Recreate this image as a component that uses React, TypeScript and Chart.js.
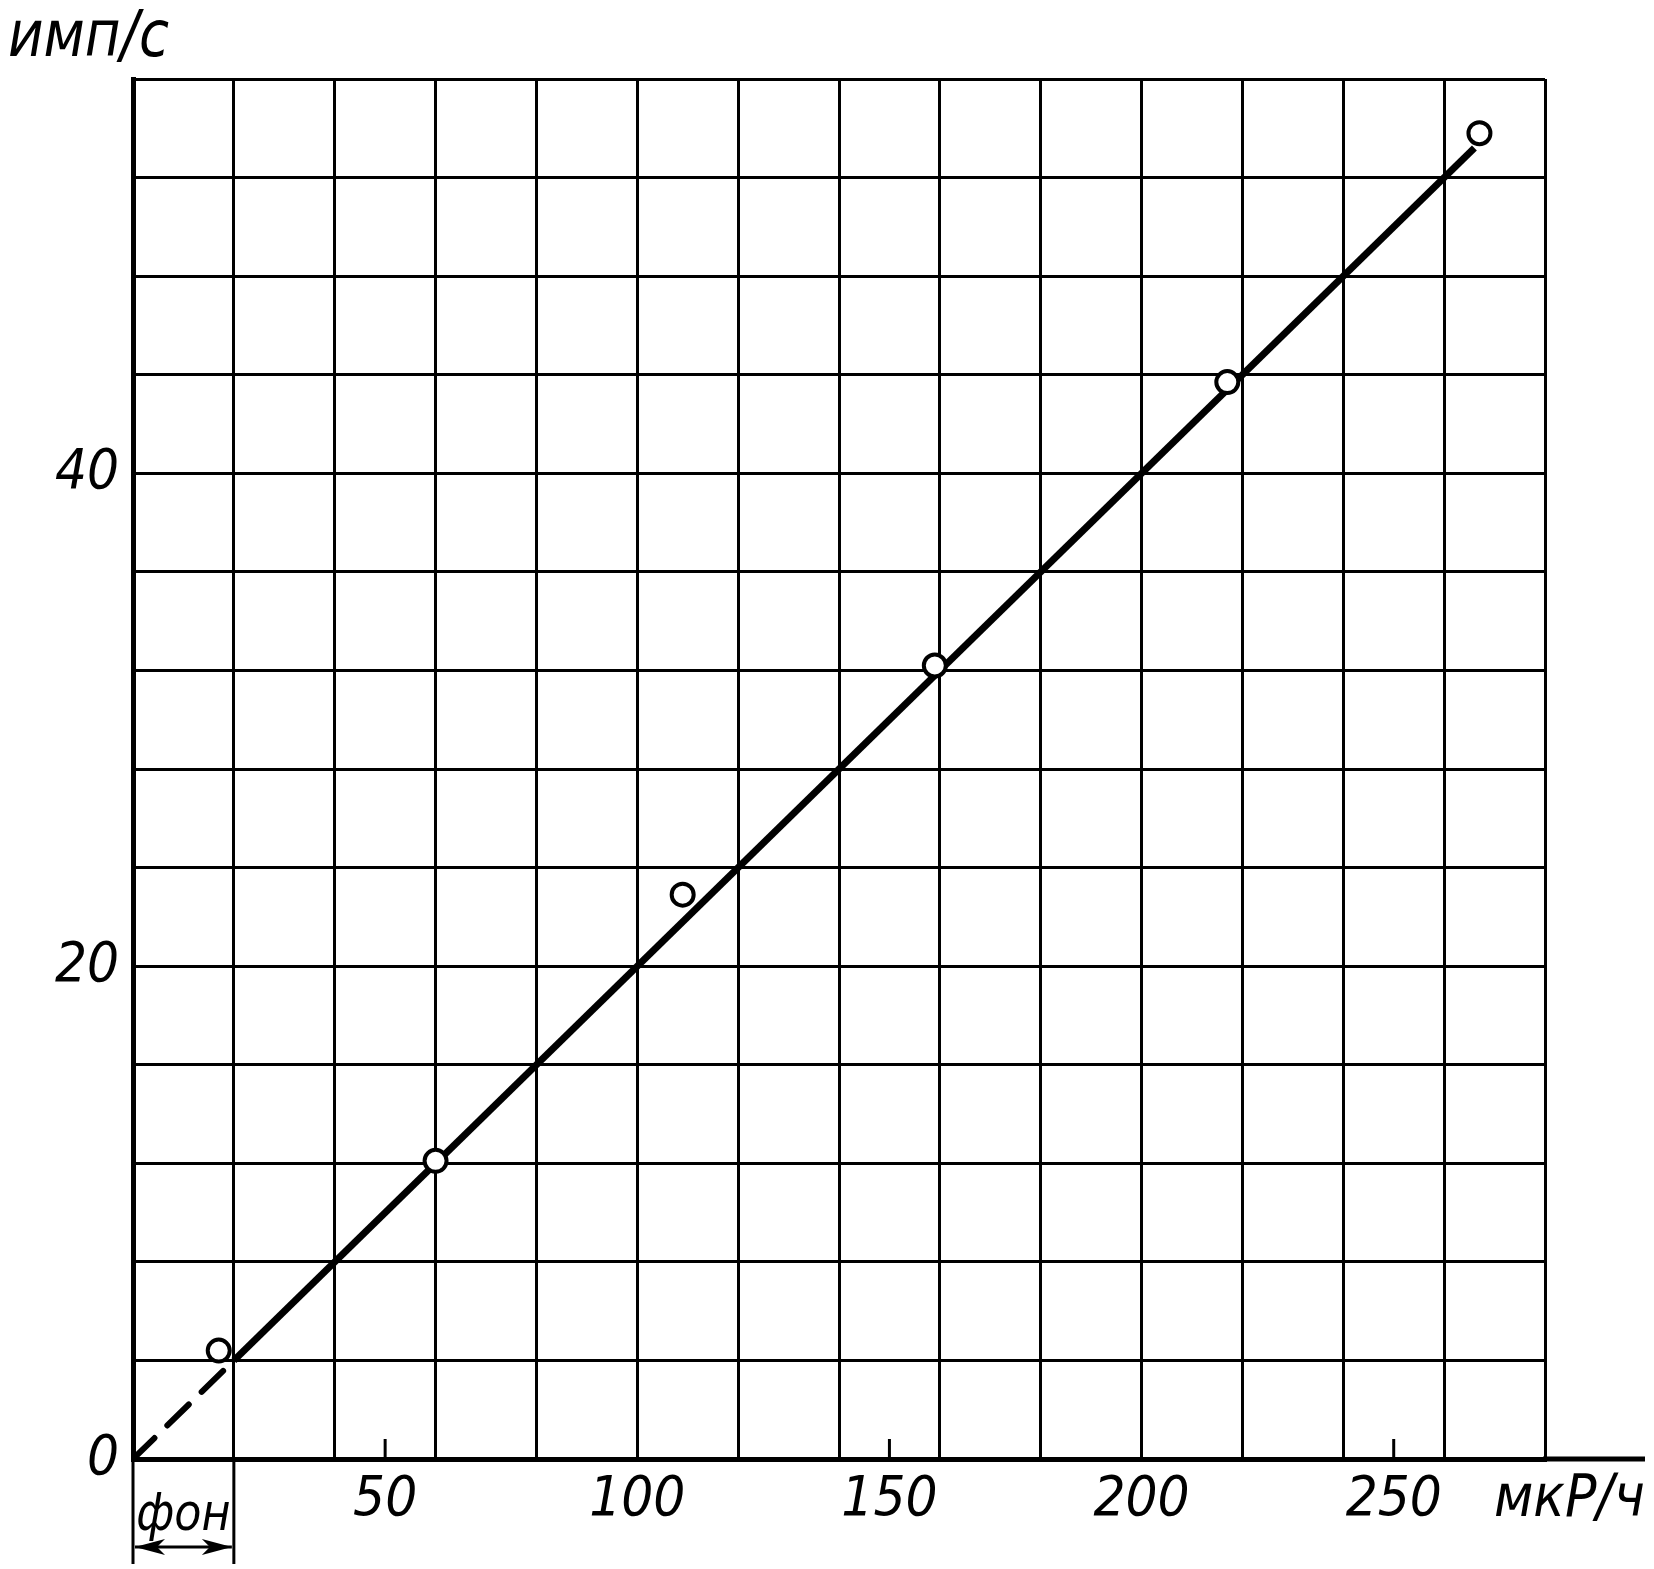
import React, { useEffect, useRef } from "react";
import { Chart, registerables } from "chart.js";

Chart.register(...registerables);

// Measured points: dose rate (мкР/ч) vs count rate (имп/с)
const doseRate = [17, 60, 109, 159, 217, 267];
const countRate = [4.4, 12.1, 22.9, 32.2, 43.7, 53.8];

// Fitted calibration line (solid) and its extrapolation through background (dashed)
const fitX = [20, 266];
const fitY = [4, 53.2];
const backgroundX = [0, 20];
const backgroundY = [0, 4];

// Axis settings / tick labels
const xTickLabels = [50, 100, 150, 200, 250];
const xMinorMarks = [50, 150, 250];
const yTickLabels = [0, 20, 40];
const xMax = 280;
const yMax = 56;
const xGridStep = 20;
const yGridStep = 4;
const backgroundRange = [0, 20];

const yTitle = "имп/с";
const xTitle = "мкР/ч";
const backgroundLabel = "фон";

const FONT = "'DejaVu Sans Condensed', 'DejaVu Sans', sans-serif";

const toPts = (xs: number[], ys: number[]) => xs.map((x, i) => ({ x, y: ys[i] }));

export default function App() {
  const ref = useRef<HTMLCanvasElement | null>(null);

  useEffect(() => {
    document.body.style.margin = "0";
    const canvas = ref.current;
    if (!canvas) return;

    const squeezedText = (ctx: any, text: string, x: number, y: number, sx: number, align: string) => {
      ctx.save();
      ctx.translate(x, y);
      ctx.scale(sx, 1);
      ctx.textAlign = align;
      ctx.fillText(text, 0, 0);
      ctx.restore();
    };

    const decor = {
      id: "decor",
      afterDraw(chart: any) {
        const { ctx, chartArea, scales } = chart;
        const xs = scales.x;
        const bottom = chartArea.bottom;
        ctx.save();
        ctx.strokeStyle = "#000";
        ctx.fillStyle = "#000";
        ctx.lineCap = "butt";

        // x-axis extension beyond the grid
        ctx.lineWidth = 5;
        ctx.beginPath();
        ctx.moveTo(chartArea.right - 2, bottom);
        ctx.lineTo(1645, bottom);
        ctx.stroke();

        // small marks at 50, 150, 250
        ctx.lineWidth = 3;
        xMinorMarks.forEach((v) => {
          const px = xs.getPixelForValue(v);
          ctx.beginPath();
          ctx.moveTo(px, bottom);
          ctx.lineTo(px, bottom - 20);
          ctx.stroke();
        });

        // background bracket
        const x0 = xs.getPixelForValue(backgroundRange[0]);
        const x1 = xs.getPixelForValue(backgroundRange[1]);
        ctx.lineWidth = 3;
        ctx.beginPath();
        ctx.moveTo(x0, bottom);
        ctx.lineTo(x0, 1564);
        ctx.moveTo(x1, bottom);
        ctx.lineTo(x1, 1564);
        ctx.stroke();
        const ay = 1547;
        ctx.lineWidth = 3;
        ctx.beginPath();
        ctx.moveTo(x0 + 2, ay);
        ctx.lineTo(x1 - 2, ay);
        ctx.stroke();
        const head = (tx: number, dir: number) => {
          ctx.beginPath();
          ctx.moveTo(tx, ay);
          ctx.lineTo(tx + dir * 30, ay - 8);
          ctx.lineTo(tx + dir * 22, ay);
          ctx.lineTo(tx + dir * 30, ay + 8);
          ctx.closePath();
          ctx.fill();
        };
        head(x0 + 2, 1);
        head(x1 - 2, -1);

        ctx.textBaseline = "alphabetic";
        ctx.font = `italic 52px ${FONT}`;
        squeezedText(ctx, backgroundLabel, (x0 + x1) / 2, 1530, 0.95, "center");

        // axis titles
        ctx.font = `italic 64px ${FONT}`;
        squeezedText(ctx, yTitle, 8, 56, 0.95, "left");
        ctx.font = `italic 58px ${FONT}`;
        squeezedText(ctx, xTitle, 1494, 1516, 1.0, "left");
        ctx.restore();
      },
    };

    const tickFont = { family: FONT, size: 56, style: "italic" };

    const chart = new Chart(canvas, {
      type: "line",
      data: {
        datasets: [
          {
            type: "line",
            data: toPts(backgroundX, backgroundY),
            borderColor: "#000",
            borderWidth: 6,
            borderDash: [30, 18],
            borderCapStyle: "round",
            pointRadius: 0,
            fill: false,
            tension: 0,
            order: 3,
          },
          {
            type: "line",
            data: toPts(fitX, fitY),
            borderColor: "#000",
            borderWidth: 7,
            pointRadius: 0,
            fill: false,
            tension: 0,
            order: 2,
          },
          {
            type: "scatter",
            data: toPts(doseRate, countRate),
            borderColor: "#000",
            backgroundColor: "#fff",
            borderWidth: 4,
            pointRadius: 11,
            showLine: false,
            order: 1,
          } as any,
        ],
      },
      options: {
        animation: false,
        responsive: false,
        devicePixelRatio: 1,
        layout: { padding: { left: 0, top: 79, right: 109, bottom: 0 } },
        plugins: { legend: { display: false }, tooltip: { enabled: false } },
        scales: {
          x: {
            type: "linear",
            min: 0,
            max: xMax,
            afterFit: (s: any) => {
              s.height = 110;
            },
            border: { display: true, color: "#000", width: 5 },
            grid: {
              drawTicks: false,
              color: (c: any) => (c.tick && c.tick.value % xGridStep === 0 ? "#000" : "rgba(0,0,0,0)"),
              lineWidth: 3,
            },
            ticks: {
              stepSize: 10,
              autoSkip: false,
              maxRotation: 0,
              minRotation: 0,
              padding: 8,
              color: "#000",
              font: tickFont,
              callback: (v: any) => (xTickLabels.includes(Number(v)) ? String(v) : ""),
            },
          },
          y: {
            type: "linear",
            min: 0,
            max: yMax,
            afterFit: (s: any) => {
              s.width = 133;
            },
            border: { display: true, color: "#000", width: 5 },
            grid: {
              drawTicks: false,
              color: (c: any) => (c.tick && c.tick.value % yGridStep === 0 ? "#000" : "rgba(0,0,0,0)"),
              lineWidth: 3,
            },
            ticks: {
              stepSize: yGridStep,
              autoSkip: false,
              padding: 14,
              color: "#000",
              font: tickFont,
              callback: (v: any) => (yTickLabels.includes(Number(v)) ? String(v) : ""),
            },
          },
        },
      } as any,
      plugins: [decor],
    });

    return () => chart.destroy();
  }, []);

  return <canvas ref={ref} width={1654} height={1569} style={{ display: "block", width: 1654, height: 1569 }} />;
}
